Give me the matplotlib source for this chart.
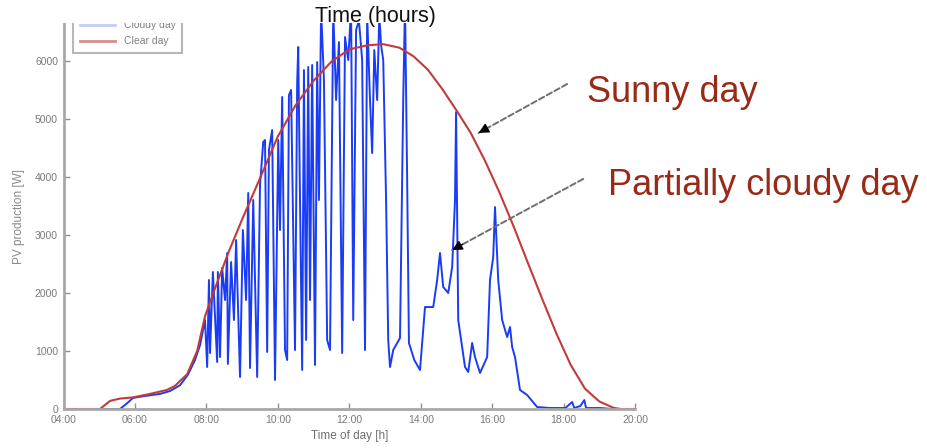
import matplotlib
matplotlib.use("Agg")
import matplotlib.pyplot as plt
from matplotlib.lines import Line2D
from matplotlib.patches import Rectangle

plt.rcParams["font.family"] = ["Liberation Sans", "DejaVu Sans"]

# clear (sunny) day, hours -> W
clear_h = [4.00, 5.02, 5.16, 5.30, 5.58, 5.94, 6.42, 6.90, 7.12, 7.46, 7.74, 7.96,
           8.24, 8.61, 9.00, 9.50, 10.00, 10.50, 11.00, 11.50, 12.00, 12.50, 12.95,
           13.40, 13.80, 14.20, 14.60, 15.00, 15.40, 15.80, 16.20, 16.60, 17.00,
           17.40, 17.80, 18.20, 18.60, 19.00, 19.40, 19.60, 20.00]
clear_w = [0, 0, 70, 140, 180, 200, 260, 330, 400, 600, 1000, 1600,
           2080, 2690, 3270, 3980, 4700, 5240, 5660, 5990, 6200, 6270, 6290,
           6230, 6080, 5850, 5520, 5150, 4760, 4280, 3740, 3150, 2520,
           1900, 1300, 760, 350, 130, 20, 0, 0]

# partially cloudy day
cloudy_h = [4.00, 5.44, 5.58, 5.78, 5.94, 6.28, 6.70, 6.98, 7.26, 7.48, 7.68, 7.82,
            7.96, 8.02, 8.07, 8.10, 8.18, 8.30, 8.32, 8.38, 8.44, 8.52, 8.58, 8.60,
            8.69, 8.77, 8.83, 8.94, 9.02, 9.11, 9.17, 9.22, 9.31, 9.39, 9.42, 9.50,
            9.59, 9.64, 9.70, 9.75, 9.84, 9.92, 10.01, 10.06, 10.12, 10.20, 10.26,
            10.31, 10.37, 10.43, 10.48, 10.54, 10.57, 10.62, 10.68, 10.73, 10.79,
            10.85, 10.90, 10.96, 11.04, 11.10, 11.15, 11.21, 11.29, 11.38, 11.46,
            11.55, 11.63, 11.71, 11.80, 11.88, 11.97, 12.05, 12.11, 12.19, 12.27,
            12.36, 12.44, 12.50, 12.58, 12.64, 12.70, 12.78, 12.84, 12.89, 12.95,
            13.03, 13.09, 13.14, 13.23, 13.31, 13.42, 13.51, 13.56, 13.62, 13.67,
            13.82, 13.98, 14.12, 14.35, 14.46, 14.54, 14.63, 14.77, 14.88, 14.96,
            14.99, 15.05, 15.24, 15.33, 15.44, 15.52, 15.66, 15.86, 15.94, 16.03,
            16.08, 16.17, 16.28, 16.42, 16.50, 16.56, 16.64, 16.78, 16.98, 17.26,
            17.62, 18.05, 18.24, 18.30, 18.47, 18.58, 18.63, 19.03, 19.36, 20.00]
cloudy_w = [0, 0, 0, 100, 190, 225, 260, 310, 410, 590, 845, 1100,
            1534, 724, 2224, 965, 2362, 810, 2362, 896, 2431, 1879, 2689, 776,
            2534, 1534, 2914, 552, 3086, 1879, 3724, 707, 3603, 1362, 552, 3862,
            4603, 4638, 983, 4465, 4810, 500, 4638, 3086, 5379, 1017, 845,
            5413, 5500, 3086, 1017, 5620, 6241, 3603, 672, 5844, 1190,
            5896, 1879, 5931, 759, 5982, 3603, 6900, 5672, 1190, 1017,
            6900, 5327, 6327, 965, 6413, 6017, 6900, 1534, 6534, 6700,
            6017, 1017, 6800, 5327, 4413, 6189, 5327, 6800, 6275, 6017,
            3603, 1190, 724, 1017, 1103, 1224, 5327, 7000, 3948, 1138,
            845, 672, 1758, 1758, 2224, 2689, 2103, 2000, 2448, 3603,
            5120, 1534, 724, 638, 1138, 896, 621, 896, 2224, 2620,
            3482, 2224, 1534, 1241, 1414, 1069, 896, 328, 241, 34,
            17, 17, 121, 17, 52, 155, 17, 17, 0, 0]

x_ticks = [4, 6, 8, 10, 12, 14, 16, 18, 20]
x_labels = ["04:00", "06:00", "08:00", "10:00", "12:00", "14:00", "16:00", "18:00", "20:00"]
y_ticks = [0, 1000, 2000, 3000, 4000, 5000, 6000]

W, H = 928, 448
fig = plt.figure(figsize=(9.28, 4.48), dpi=100)
ax = fig.add_axes([63.6 / W, 1 - 409 / H, (635 - 63.6) / W, (409 - 23) / H])

ax.plot(cloudy_h, cloudy_w, color="#1a3cf5", lw=1.4)
ax.plot(clear_h, clear_w, color="#c43a3a", lw=1.5)

ax.set_xlim(4, 20)
ax.set_ylim(0, 6655)
ax.set_xticks(x_ticks)
ax.set_xticklabels(x_labels)
ax.set_yticks(y_ticks)
ax.set_yticklabels([str(v) for v in y_ticks])

grey = "#a8a8a8"
for side in ["top", "right"]:
    ax.spines[side].set_visible(False)
for side in ["left", "bottom"]:
    ax.spines[side].set_color(grey)
    ax.spines[side].set_linewidth(2)
ax.tick_params(direction="in", length=4, width=1, color="#909090",
               labelsize=7.5, labelcolor="#7a7a7a", pad=4)
ax.set_xlabel("Time of day [h]", fontsize=8.5, color="#707070", labelpad=4)
ax.set_ylabel("PV production [W]", fontsize=8.5, color="#8a8a8a", labelpad=7)

handles = [Line2D([], [], color="#c4cdf5", lw=2),
           Line2D([], [], color="#d88c8c", lw=2)]
leg = ax.legend(handles, ["Cloudy day", "Clear day"], loc="lower left",
                bbox_to_anchor=(73 / W, 1 - 53 / H), bbox_transform=fig.transFigure,
                fontsize=7.5, handlelength=3.4, labelspacing=0.55, borderpad=0.65,
                fancybox=False, framealpha=1, borderaxespad=0)
leg.get_frame().set_edgecolor("#b8b8b8")
leg.get_frame().set_linewidth(1.5)
for t in leg.get_texts():
    t.set_color("#808080")

# white band over the top, as in the original crop
fig.patches.append(Rectangle((0, 1 - 23 / H), 450 / W, 23 / H, transform=fig.transFigure,
                             facecolor="white", edgecolor="none", zorder=5))
fig.text(315 / W, 1 - 22 / H, "Time (hours)", fontsize=15.5, color="#111111",
         va="baseline", ha="left", zorder=6)

red_txt = "#9a2a18"
fig.text(587 / W, 1 - 102 / H, "Sunny day", fontsize=26, color=red_txt,
         va="baseline", ha="left")
fig.text(608 / W, 1 - 195 / H, "Partially cloudy day", fontsize=26, color=red_txt,
         va="baseline", ha="left")

arrows = [((15.62, 4760), (18.10, 5603)), ((14.88, 2741), (18.55, 3966))]
for head, tail in arrows:
    ax.annotate("", xy=head, xytext=tail, annotation_clip=False,
                arrowprops=dict(arrowstyle="-", color="#6e6e6e", lw=1.4,
                                linestyle=(0, (3, 1.5)), shrinkA=0, shrinkB=0))
    back = (head[0] + (tail[0] - head[0]) * 0.08, head[1] + (tail[1] - head[1]) * 0.08)
    ax.annotate("", xy=head, xytext=back, annotation_clip=False,
                arrowprops=dict(arrowstyle="-|>,head_length=0.6,head_width=0.3",
                                color="black", lw=1, shrinkA=0, shrinkB=0))

fig.savefig("out.png", dpi=100)
